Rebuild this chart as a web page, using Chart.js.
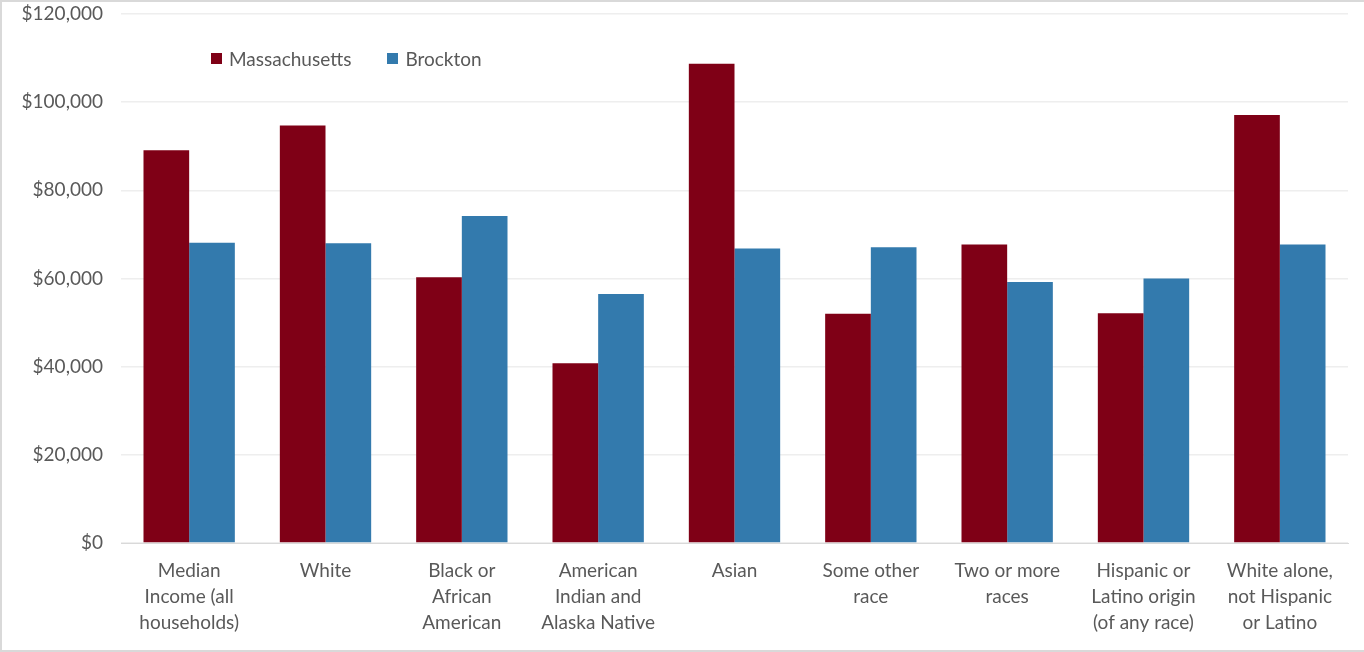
<!DOCTYPE html>
<html>
<head>
<meta charset="utf-8">
<script src="https://cdn.jsdelivr.net/npm/chart.js@4/dist/chart.umd.min.js"></script>
<style>
  html, body { margin: 0; padding: 0; background: #fff; overflow: hidden; }
  #wrap {
    position: relative;
    width: 1364px; height: 652px;
    box-sizing: border-box;
    border-left: 2px solid #d9d9d9;
    border-top: 2px solid #d9d9d9;
    border-bottom: 2px solid #d9d9d9;
  }
  #wrap canvas { display: block; }
  #legend {
    position: absolute; left: 209px; top: 45px;
    font-family: Lato, "Open Sans", sans-serif; font-size: 19px; color: #595959;
    display: flex; align-items: center;
  }
  .item { display: flex; align-items: center; margin-right: 36px; }
  .box { width: 11px; height: 11px; margin-right: 7px; }
</style>
</head>
<body>
<div id="wrap">
  <canvas id="chart" width="1362" height="648"></canvas>
  <div id="legend"></div>
</div>
<script>
const categories = [
  ['Median', 'Income (all', 'households)'],
  ['White'],
  ['Black or', 'African', 'American'],
  ['American', 'Indian and', 'Alaska Native'],
  ['Asian'],
  ['Some other', 'race'],
  ['Two or more', 'races'],
  ['Hispanic or', 'Latino origin', '(of any race)'],
  ['White alone,', 'not Hispanic', 'or Latino']
];
const massachusetts = [89100, 94700, 60300, 40800, 108700, 52000, 67700, 52100, 97100];
const brockton = [68100, 68000, 74200, 56500, 66800, 67100, 59200, 60000, 67700];
const seriesNames = ['Massachusetts', 'Brockton'];
const seriesColors = ['#7f0016', '#337aad'];
const yTicks = [0, 20000, 40000, 60000, 80000, 100000, 120000];

const font = 'Lato, "Open Sans", sans-serif';

// html legend placed inside the plot area like the original
const legend = document.getElementById('legend');
seriesNames.forEach(function (name, i) {
  const item = document.createElement('div');
  item.className = 'item';
  item.innerHTML = '<div class="box" style="background:' + seriesColors[i] + '"></div><span>' + name + '</span>';
  legend.appendChild(item);
});

new Chart(document.getElementById('chart'), {
  type: 'bar',
  data: {
    labels: categories,
    datasets: [
      { label: seriesNames[0], data: massachusetts, backgroundColor: seriesColors[0] },
      { label: seriesNames[1], data: brockton, backgroundColor: seriesColors[1] }
    ]
  },
  options: {
    responsive: false,
    animation: false,
    layout: { padding: { top: 0, right: 16, left: 0, bottom: 0 } },
    datasets: { bar: { categoryPercentage: 0.67, barPercentage: 1.0 } },
    plugins: {
      legend: { display: false },
      tooltip: { enabled: false }
    },
    scales: {
      x: {
        grid: { display: false, drawTicks: false },
        border: { color: '#d9d9d9', width: 1 },
        ticks: {
          color: '#595959',
          font: { family: font, size: 19, lineHeight: 1.37 },
          padding: 15,
          maxRotation: 0,
          autoSkip: false
        },
        afterFit: function (scale) {
          scale.height = 107;
          scale.paddingTop = 0;
        }
      },
      y: {
        min: 0,
        max: 120000,
        afterBuildTicks: function (scale) {
          scale.ticks = yTicks.map(v => ({ value: v }));
        },
        grid: { color: '#eeeeee', lineWidth: 1.5, drawTicks: false },
        border: { display: false },
        ticks: {
          color: '#595959',
          font: { family: font, size: 19 },
          padding: 18,
          callback: v => '$' + v.toLocaleString('en-US')
        },
        afterFit: function (scale) {
          scale.width = 119;
          scale.paddingTop = 12;
          scale.paddingBottom = 0;
        }
      }
    }
  }
});
</script>
</body>
</html>
